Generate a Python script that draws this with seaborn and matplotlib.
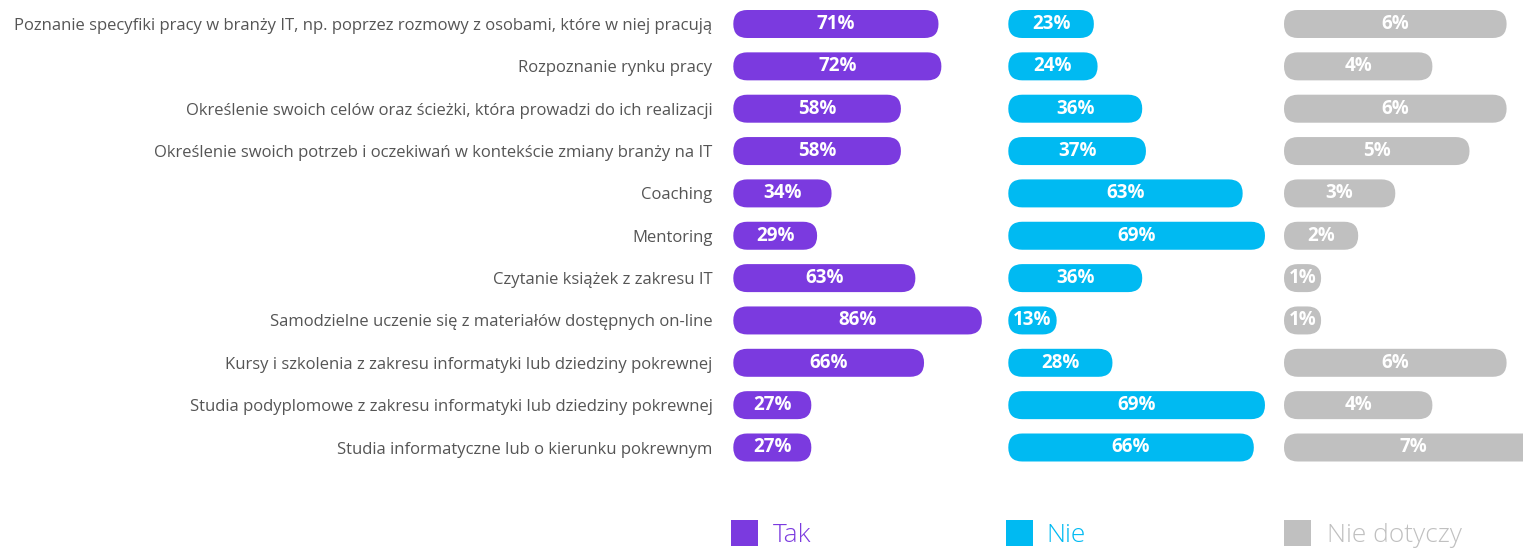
import matplotlib
matplotlib.use("Agg")
import matplotlib.pyplot as plt
import seaborn as sns
import pandas as pd
from matplotlib.patches import FancyBboxPatch, Rectangle

categories = [
    "Poznanie specyfiki pracy w branży IT, np. poprzez rozmowy z osobami, które w niej pracują",
    "Rozpoznanie rynku pracy",
    "Określenie swoich celów oraz ścieżki, która prowadzi do ich realizacji",
    "Określenie swoich potrzeb i oczekiwań w kontekście zmiany branży na IT",
    "Coaching",
    "Mentoring",
    "Czytanie książek z zakresu IT",
    "Samodzielne uczenie się z materiałów dostępnych on-line",
    "Kursy i szkolenia z zakresu informatyki lub dziedziny pokrewnej",
    "Studia podyplomowe z zakresu informatyki lub dziedziny pokrewnej",
    "Studia informatyczne lub o kierunku pokrewnym",
]
tak = [71, 72, 58, 58, 34, 29, 63, 86, 66, 27, 27]
nie = [23, 24, 36, 37, 63, 69, 36, 13, 28, 69, 66]
nie_dotyczy = [6, 4, 6, 5, 3, 2, 1, 1, 6, 4, 7]

series_names = ["Tak", "Nie", "Nie dotyczy"]
series_values = [tak, nie, nie_dotyczy]
series_colors = ["#7B3ADF", "#00BAF2", "#C0C0C0"]

sns.set_theme(style="white")
plt.rcParams["font.family"] = ["Open Sans", "DejaVu Sans"]

W, H = 1523, 549
fig = plt.figure(figsize=(W / 100, H / 100), dpi=100)

# panel geometry in pixels: (left, width, pixels per percent)
panels = [(733.3, 262.0, 2.89), (1008.3, 270.0, 3.72), (1284.0, 239.0, 37.1)]
row_px = 42.35
n = len(categories)
top_px = 24.0 - row_px / 2
ax_h = n * row_px
bar_h_px = 28.0
radius_px = 13.9

axes = []
for (left, width, ppp), name, vals, color in zip(panels, series_names, series_values, series_colors):
    ax = fig.add_axes([left / W, (H - top_px - ax_h) / H, width / W, ax_h / H])
    df = pd.DataFrame({"kategoria": categories, "wartosc": vals})
    sns.barplot(data=df, x="wartosc", y="kategoria", orient="h", color=color,
                width=bar_h_px / row_px, ax=ax, saturation=1)
    ax.set_xlim(0, width / ppp)
    ax.set_ylim(n - 0.5, -0.5)
    xpp = 1.0 / ppp
    ypp = 1.0 / row_px
    # swap plain rectangles for pill-shaped bars
    for p in list(ax.patches):
        x0, y0 = p.get_x(), p.get_y()
        w, h = p.get_width(), p.get_height()
        p.remove()
        r = min(radius_px * xpp, w / 2)
        pill = FancyBboxPatch((x0, y0), w, h,
                              boxstyle=f"round,pad=0,rounding_size={r}",
                              mutation_aspect=ypp / xpp,
                              facecolor=color, edgecolor="none")
        ax.add_patch(pill)
    for i, v in enumerate(vals):
        ax.text(v / 2, i, f"{v}%", ha="center", va="center", color="white",
                fontsize=13.5, fontweight="bold")
    ax.set_xlabel("")
    ax.set_ylabel("")
    ax.set_xticks([])
    sns.despine(ax=ax, left=True, bottom=True)
    if not axes:
        ax.tick_params(axis="y", length=0, pad=15)
        for lbl in ax.get_yticklabels():
            lbl.set_fontsize(12)
            lbl.set_color("#555555")
    else:
        ax.set_yticks([])
    axes.append(ax)

# legend
legend_pos = [(731.0, 772.7), (1006.0, 1046.7), (1284.0, 1327.3)]
for (sx, tx), name, color in zip(legend_pos, series_names, series_colors):
    fig.add_artist(Rectangle((sx / W, 3.0 / H), 26.5 / W, 26.5 / H,
                             transform=fig.transFigure, facecolor=color,
                             edgecolor="none"))
    fig.text(tx / W, 7.0 / H, name, color=color, fontsize=19, fontweight="light",
             ha="left", va="baseline")

fig.savefig("out.png", dpi=100)
